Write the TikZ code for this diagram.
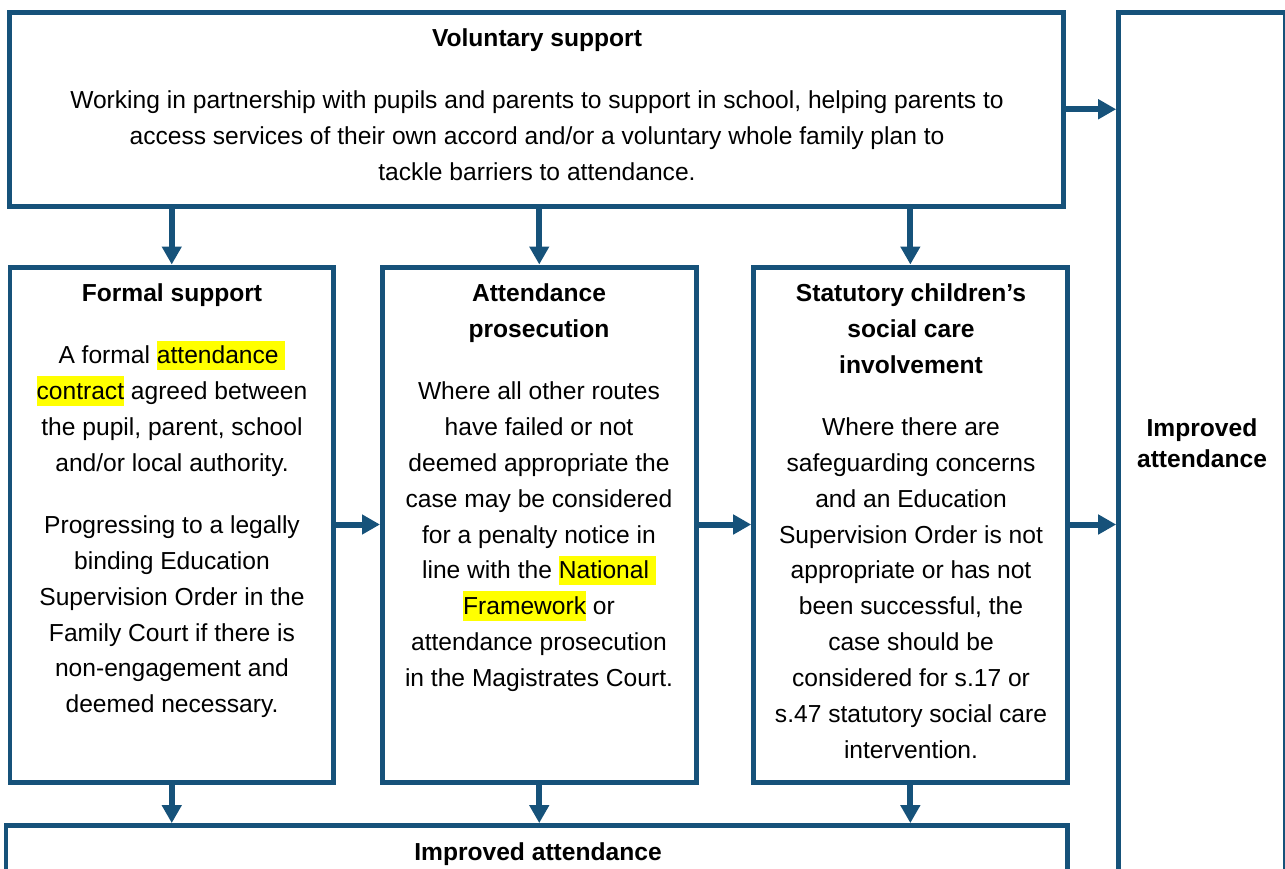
\documentclass[tikz,border=0pt]{standalone}
\usepackage{fontspec}
\setmainfont{Liberation Sans}
\usetikzlibrary{arrows.meta,fit}
\definecolor{edgeblue}{RGB}{22,82,122}
\definecolor{hlyellow}{RGB}{255,255,0}
\newcommand{\hlmark}[1]{{\setlength{\fboxsep}{0pt}\colorbox{hlyellow}{\rule[-0.26em]{0pt}{1.21em}#1}}}

\begin{document}
\begin{tikzpicture}[x=0.02cm, y=-0.02cm,
  >={Triangle[length=0.36cm,width=0.38cm]},
  box/.style={draw=edgeblue, line width=0.1cm, inner sep=0pt},
  txt/.style={anchor=north, align=center, inner sep=0pt, font={\fontsize{14}{20.4}\selectfont}},
  arr/.style={->, draw=edgeblue, line width=0.12cm}]
\path[use as bounding box, clip] (0,0) rectangle (1285,869);
\node[box, fit={(9.5,12.5) (1063.7,206)}] (vol) {};
\node[box, fit={(10,267) (333.5,782)}] (formal) {};
\node[box, fit={(382.5,267) (696,782)}] (pros) {};
\node[box, fit={(753.7,267) (1067,782)}] (stat) {};
\node[box, fit={(6,825.6) (1067,920)}] (result) {};
\node[box, fit={(1118.7,12.5) (1285.5,920)}] (side) {};

\node[txt] (voltext) at (537,28.5) {\textbf{Voluntary support}\\[15pt]
  Working in partnership with pupils and parents to support in school, helping parents to\\
  access services of their own accord and/or a voluntary whole family plan to\\
  tackle barriers to attendance.};
\node[txt] (formaltext) at (172,283.5) {\textbf{Formal support}\\[15pt]
  A formal \hlmark{attendance\ }\\
  \hlmark{contract} agreed between\\
  the pupil, parent, school\\
  and/or local authority.\\[15pt]
  Progressing to a legally\\
  binding Education\\
  Supervision Order in the\\
  Family Court if there is\\
  non-engagement and\\
  deemed necessary.};
\node[txt] (prostext) at (539,283.5) {\textbf{Attendance}\\ \textbf{prosecution}\\[15pt]
  Where all other routes\\
  have failed or not\\
  deemed appropriate the\\
  case may be considered\\
  for a penalty notice in\\
  line with the \hlmark{National\ }\\
  \hlmark{Framework} or\\
  attendance prosecution\\
  in the Magistrates Court.};
\node[txt] (stattext) at (911,283.5) {\textbf{Statutory children’s}\\ \textbf{social care}\\ \textbf{involvement}\\[15pt]
  Where there are\\
  safeguarding concerns\\
  and an Education\\
  Supervision Order is not\\
  appropriate or has not\\
  been successful, the\\
  case should be\\
  considered for s.17 or\\
  s.47 statutory social care\\
  intervention.};
\node[txt, font={\fontsize{14}{17.6}\selectfont}] (sidetext) at (1202,418.5) {\textbf{Improved}\\ \textbf{attendance}};
\node[txt] (resulttext) at (538,842.5) {\textbf{Improved attendance}};

% routes out of voluntary support
\draw[arr] (vol.south -| formal.north) -- (formal.north);
\draw[arr] (vol.south -| pros.north) -- (pros.north);
\draw[arr] (vol.south -| stat.north) -- (stat.north);
\draw[arr] (vol.east) -- (vol.east -| side.west);
% escalation
\draw[arr] (formal) -- (pros);
\draw[arr] (pros) -- (stat);
\draw[arr] (stat.east) -- (stat.east -| side.west);
% outcomes
\draw[arr] (formal.south) -- (formal.south |- result.north);
\draw[arr] (pros.south) -- (pros.south |- result.north);
\draw[arr] (stat.south) -- (stat.south |- result.north);
\end{tikzpicture}
\end{document}
